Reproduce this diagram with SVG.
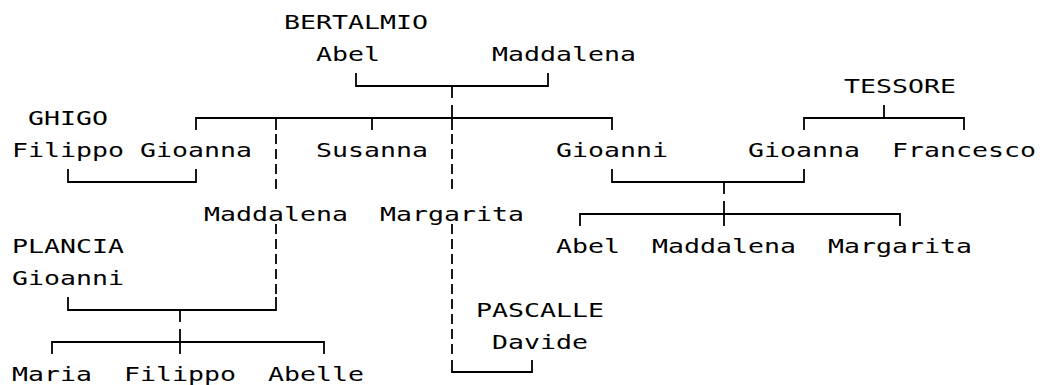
<svg xmlns="http://www.w3.org/2000/svg" width="1045" height="385" viewBox="0 0 1045 385">
<style>
text{font-family:"DejaVu Sans Mono","Liberation Mono",monospace;font-size:20px;fill:#000}
.c{fill:none;stroke:#000;stroke-width:1.8}
.d{fill:none;stroke:#000;stroke-width:1.8;stroke-dasharray:10 5}
</style>
<rect width="1045" height="385" fill="#fff"/>
<g id="connectors">
<path class="c" d="M356 73V86H548V73M452 86V98"/>
<path class="c" d="M196 130V118H612V130M276 118V130M372 118V130M452 105V130"/>
<path class="c" d="M804 130V118H964V130M884 118V105"/>
<path class="c" d="M68 169V182H196V169"/>
<path class="c" d="M612 169V182H804V169M724 182V194"/>
<path class="c" d="M580 226V214H900V226M724 201V226"/>
<path class="c" d="M68 297V310H276V297M180 310V322"/>
<path class="c" d="M52 354V342H324V354M180 329V354"/>
<path class="c" d="M452 360V372H532V360"/>
<path class="d" d="M276 134V190M276 224V294M452 134V190M452 224V359"/>
</g>
<g id="bertalmio"><text transform="translate(284 28.5) scale(1.3288 1)">BERTALMIO</text></g>
<g id="abel-sr"><text transform="translate(316 60.5) scale(1.3288 1)">Abel</text></g>
<g id="maddalena-sr"><text transform="translate(492 60.5) scale(1.3288 1)">Maddalena</text></g>
<g id="tessore"><text transform="translate(844 92.5) scale(1.3288 1)">TESSORE</text></g>
<g id="ghigo"><text transform="translate(28 124.5) scale(1.3288 1)">GHIGO</text></g>
<g id="filippo-ghigo"><text transform="translate(12 156.5) scale(1.3288 1)">Filippo</text></g>
<g id="gioanna-b"><text transform="translate(140 156.5) scale(1.3288 1)">Gioanna</text></g>
<g id="susanna"><text transform="translate(316 156.5) scale(1.3288 1)">Susanna</text></g>
<g id="gioanni-b"><text transform="translate(556 156.5) scale(1.3288 1)">Gioanni</text></g>
<g id="gioanna-t"><text transform="translate(748 156.5) scale(1.3288 1)">Gioanna</text></g>
<g id="francesco"><text transform="translate(892 156.5) scale(1.3288 1)">Francesco</text></g>
<g id="maddalena-b"><text transform="translate(204 220.5) scale(1.3288 1)">Maddalena</text></g>
<g id="margarita-b"><text transform="translate(380 220.5) scale(1.3288 1)">Margarita</text></g>
<g id="plancia"><text transform="translate(12 252.5) scale(1.3288 1)">PLANCIA</text></g>
<g id="abel-jr"><text transform="translate(556 252.5) scale(1.3288 1)">Abel</text></g>
<g id="maddalena-jr"><text transform="translate(652 252.5) scale(1.3288 1)">Maddalena</text></g>
<g id="margarita-jr"><text transform="translate(828 252.5) scale(1.3288 1)">Margarita</text></g>
<g id="gioanni-p"><text transform="translate(12 284.5) scale(1.3288 1)">Gioanni</text></g>
<g id="pascalle"><text transform="translate(476 316.5) scale(1.3288 1)">PASCALLE</text></g>
<g id="davide"><text transform="translate(492 348.5) scale(1.3288 1)">Davide</text></g>
<g id="maria"><text transform="translate(12 380.5) scale(1.3288 1)">Maria</text></g>
<g id="filippo-p"><text transform="translate(124 380.5) scale(1.3288 1)">Filippo</text></g>
<g id="abelle"><text transform="translate(268 380.5) scale(1.3288 1)">Abelle</text></g>
</svg>
